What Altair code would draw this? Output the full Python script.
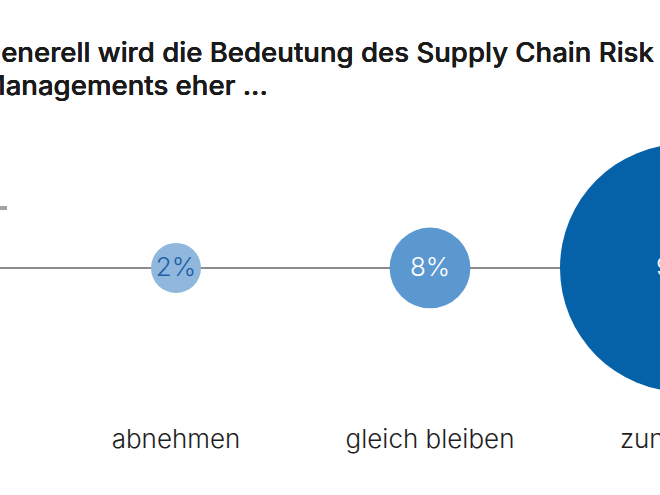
import altair as alt
import pandas as pd

# Survey answers: how will the importance of Supply Chain Risk Management develop?
categories = ["abnehmen", "gleich bleiben", "zunehmen"]
shares = [2, 8, 90]
positions = [0, 1, 2]
value_labels = ["2%", "8%", "90%"]

title_lines = [
    "Generell wird die Bedeutung des Supply Chain Risk",
    "Managements eher ...",
]

circle_colors = ["#8fb8dc", "#5b98cf", "#0562a9"]
value_colors = ["#1f5ea8", "#ffffff", "#ffffff"]

df = pd.DataFrame(
    {
        "pos": positions,
        "kategorie": categories,
        "anteil": shares,
        "wert": value_labels,
        "row": [0] * len(categories),
        "label_row": [-1] * len(categories),
    }
)

W, H = 660, 495
xscale = alt.Scale(domain=[-0.6929, 1.9055], nice=False, zero=False)
yscale = alt.Scale(domain=[-1.320, 1.558], nice=False, zero=False)
x_enc = alt.X("pos:Q", scale=xscale, axis=None)

base = alt.Chart(df)

axis_line = base.mark_rule(color="#8c8c8c", strokeWidth=2).encode(
    y=alt.Y("row:Q", scale=yscale, axis=None),
    x=alt.value(0),
    x2=alt.value(W),
)

marker = base.mark_rule(color="#a3a3a3", strokeWidth=4).encode(
    x=alt.value(0), x2=alt.value(7), y=alt.value(208)
)

# symbol size = squared diameter
bubbles = base.mark_circle(opacity=1).encode(
    x=x_enc,
    y=alt.Y("row:Q", scale=yscale, axis=None),
    size=alt.Size(
        "anteil:Q",
        scale=alt.Scale(domain=[2, 90], range=[2500, 61504], zero=False),
        legend=None,
    ),
    color=alt.Color(
        "kategorie:N",
        scale=alt.Scale(domain=categories, range=circle_colors),
        legend=None,
    ),
)

values = base.mark_text(
    font="Inter", fontSize=26, fontWeight=300, align="center", baseline="middle"
).encode(
    x=x_enc,
    y=alt.Y("row:Q", scale=yscale, axis=None),
    text="wert:N",
    color=alt.Color(
        "wert:N",
        scale=alt.Scale(domain=value_labels, range=value_colors),
        legend=None,
    ),
)

cat_labels = base.mark_text(
    font="Inter", fontSize=26, fontWeight=300, align="center", baseline="middle",
    color="#1e1e1e",
).encode(
    x=x_enc,
    y=alt.Y("label_row:Q", scale=yscale, axis=None),
    text="kategorie:N",
)

title = base.mark_text(
    font="Inter", fontSize=27.6, fontWeight=500, align="left",
    baseline="alphabetic", lineHeight=33, color="#1a1a1a",
).encode(
    x=alt.value(-19.5),
    y=alt.value(62),
    text=alt.value(title_lines),
)

chart = (
    alt.layer(axis_line, marker, bubbles, values, cat_labels, title)
    .resolve_scale(color="independent")
    .properties(width=W, height=H, autosize="none", padding=0, background="#ffffff")
    .configure_view(stroke=None)
)

chart.save("out.html", embed_options={"renderer": "svg", "actions": False})
